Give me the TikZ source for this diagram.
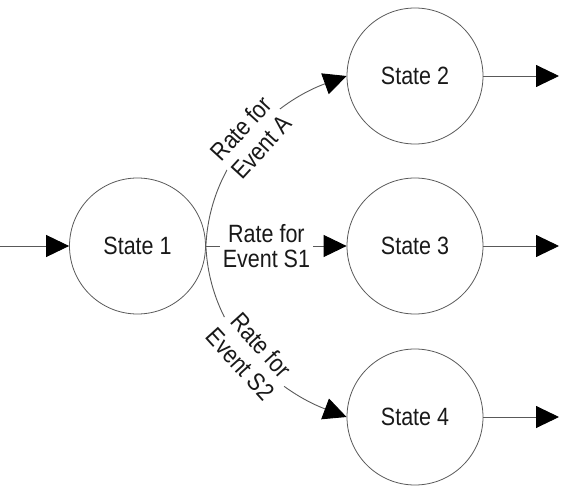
\documentclass[tikz,border=0pt]{standalone}
\usepackage{fontspec}
\setmainfont{Liberation Sans}
\newfontfamily\labfont[FakeStretch=0.86]{Liberation Sans}
\usetikzlibrary{arrows.meta}
\begin{document}
\begin{tikzpicture}[x=1pt,y=-1pt,
  state/.style={circle,draw=black!65,line width=0.8pt,minimum size=136pt,inner sep=0pt,text=black!90},
  arr/.style={draw=black!65,line width=0.9pt,-{Triangle[length=23pt,width=22pt,fill=black,color=black]}},
  lbl/.style={fill=white,align=center,inner sep=2pt,text=black!90},
  curvlbl/.style={lbl,sloped,pos=0.49,font=\labfont\fontsize{25}{28}\selectfont},
  font=\labfont\fontsize{25}{25.5}\selectfont]
\useasboundingbox (0,0) rectangle (564,494);
\node[state] (s1) at (137.5,246) {State 1};
\node[state] (s2) at (415,76) {State 2};
\node[state] (s3) at (415,246) {State 3};
\node[state] (s4) at (415,417) {State 4};
\coordinate (in) at (0,246);
\coordinate (o2) at (559,76);
\coordinate (o3) at (559,246);
\coordinate (o4) at (559,417);
\draw[arr] (in) -- (s1);
\draw[arr] (s2) -- (o2);
\draw[arr] (s3) -- (o3);
\draw[arr] (s4) -- (o4);
\draw[arr] (s1.east) .. controls (210,155) and (280,100) .. (s2.west)
  node[curvlbl] {Rate for\\Event A};
\draw[arr] (s1.east) -- node[lbl,pos=0.43,inner sep=3pt] {Rate for\\Event S1} (s3.west);
\draw[arr] (s1.east) .. controls (210,337) and (280,392) .. (s4.west)
  node[curvlbl] {Rate for\\Event S2};
\end{tikzpicture}
\end{document}
